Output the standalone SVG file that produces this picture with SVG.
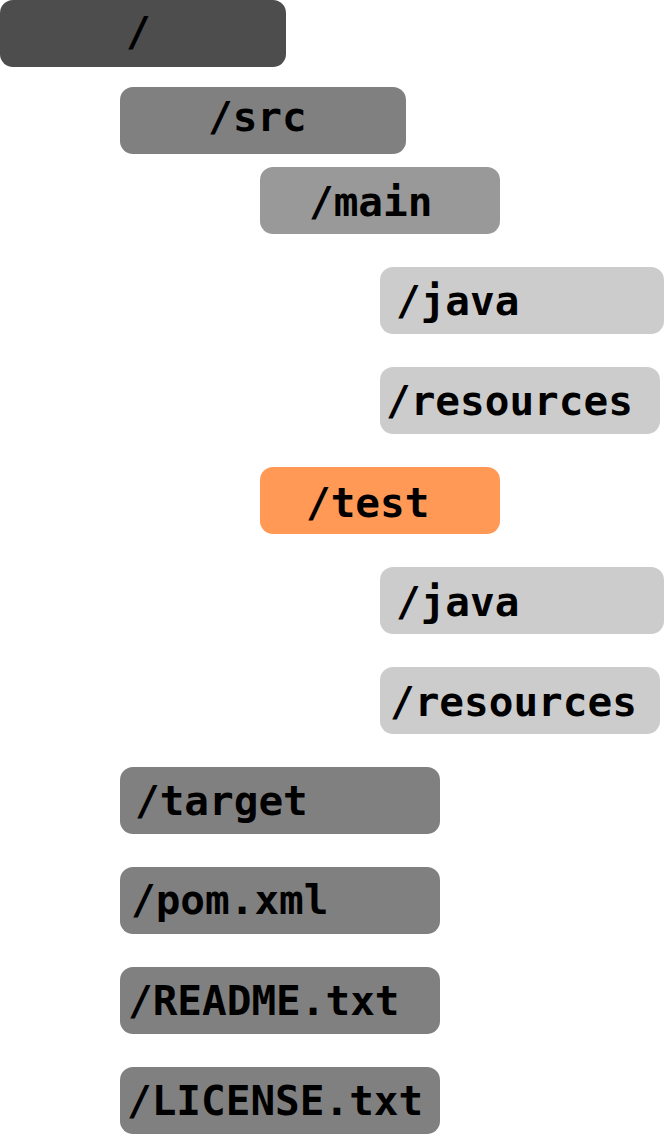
<svg xmlns="http://www.w3.org/2000/svg" width="664" height="1135" viewBox="0 0 664 1135">
<style>
rect{rx:13px;ry:13px}
text{font-family:"DejaVu Sans Mono","Liberation Mono",monospace;font-weight:bold;font-size:41px;fill:#000}
.d{fill:#4d4d4d}.m{fill:#808080}.l{fill:#999999}.p{fill:#cccccc}.o{fill:#ff9955}
</style>
<rect width="664" height="1135" fill="#ffffff" rx="0" ry="0" style="rx:0;ry:0"/>
<g id="connectors"/>
<g id="root"><rect class="d" x="0" y="0" width="286" height="67"/><text x="126" y="46">/</text></g>
<g id="src"><rect class="m" x="120" y="87" width="286" height="67"/><text x="208" y="131">/src</text></g>
<g id="main"><rect class="l" x="260" y="167" width="240" height="67"/><text x="309" y="216">/main</text></g>
<g id="main-java"><rect class="p" x="380" y="267" width="284" height="67"/><text x="396" y="315">/java</text></g>
<g id="main-resources"><rect class="p" x="380" y="367" width="280" height="67"/><text x="386" y="415">/resources</text></g>
<g id="test"><rect class="o" x="260" y="467" width="240" height="67"/><text x="306" y="517">/test</text></g>
<g id="test-java"><rect class="p" x="380" y="567" width="284" height="67"/><text x="396" y="616">/java</text></g>
<g id="test-resources"><rect class="p" x="380" y="667" width="280" height="67"/><text x="390" y="716">/resources</text></g>
<g id="target"><rect class="m" x="120" y="767" width="320" height="67"/><text x="135" y="815">/target</text></g>
<g id="pom"><rect class="m" x="120" y="867" width="320" height="67"/><text x="131" y="914">/pom.xml</text></g>
<g id="readme"><rect class="m" x="120" y="967" width="320" height="67"/><text x="128" y="1015">/README.txt</text></g>
<g id="license"><rect class="m" x="120" y="1067" width="320" height="67"/><text x="127" y="1115">/LICENSE.txt</text></g>
</svg>
